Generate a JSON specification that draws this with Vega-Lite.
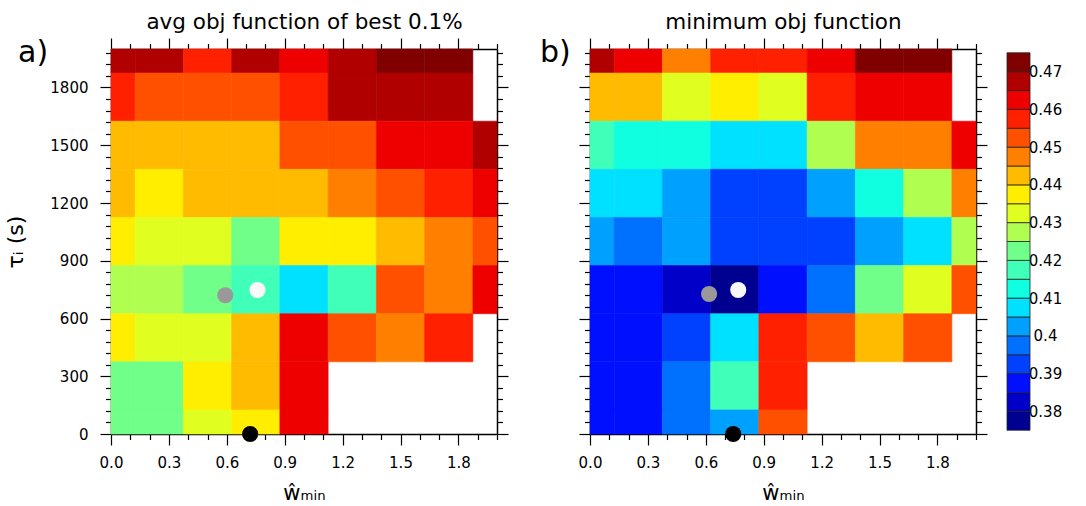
{
 "$schema": "https://vega.github.io/schema/vega-lite/v6.json",
 "padding": {"left": 4, "top": 11, "right": 5, "bottom": 5},
 "background": "white",
 "config": {
  "font": "DejaVu Sans",
  "view": {"stroke": null},
  "axis": {"domainColor": "#000", "domainWidth": 1.5, "tickColor": "#000", "tickWidth": 1.2, "labelColor": "#000", "labelFontSize": 15, "labelFont": "DejaVu Sans", "titleFont": "DejaVu Sans", "titleColor": "#000", "titleFontWeight": "normal", "grid": false, "zindex": 1, "labelOverlap": false, "labelFlush": false, "labelBound": false},
  "title": {"font": "DejaVu Sans", "fontSize": 30, "fontWeight": "normal", "color": "#000", "anchor": "start", "frame": "group", "baseline": "alphabetic"}
 },
 "datasets": {
  "wbins": [{"w":0,"w0":0,"w1":0.125},{"w":0.25,"w0":0.125,"w1":0.375},{"w":0.5,"w0":0.375,"w1":0.625},{"w":0.75,"w0":0.625,"w1":0.875},{"w":1,"w0":0.875,"w1":1.125},{"w":1.25,"w0":1.125,"w1":1.375},{"w":1.5,"w0":1.375,"w1":1.625},{"w":1.75,"w0":1.625,"w1":1.875},{"w":2,"w0":1.875,"w1":2}],
  "tbins": [{"tau":0,"t0":0,"t1":125},{"tau":250,"t0":125,"t1":375},{"tau":500,"t0":375,"t1":625},{"tau":750,"t0":625,"t1":875},{"tau":1000,"t0":875,"t1":1125},{"tau":1250,"t0":1125,"t1":1375},{"tau":1500,"t0":1375,"t1":1625},{"tau":1750,"t0":1625,"t1":1875},{"tau":2000,"t0":1875,"t1":2000}],
  "objA": [
   {"w":0,"tau":2000,"v":0.4675},{"w":0.25,"tau":2000,"v":0.4675},{"w":0.5,"tau":2000,"v":0.4575},{"w":0.75,"tau":2000,"v":0.4675},{"w":1,"tau":2000,"v":0.4625},{"w":1.25,"tau":2000,"v":0.4675},{"w":1.5,"tau":2000,"v":0.4725},{"w":1.75,"tau":2000,"v":0.4725},
   {"w":0,"tau":1750,"v":0.4575},{"w":0.25,"tau":1750,"v":0.4525},{"w":0.5,"tau":1750,"v":0.4525},{"w":0.75,"tau":1750,"v":0.4525},{"w":1,"tau":1750,"v":0.4575},{"w":1.25,"tau":1750,"v":0.4675},{"w":1.5,"tau":1750,"v":0.4675},{"w":1.75,"tau":1750,"v":0.4675},
   {"w":0,"tau":1500,"v":0.4425},{"w":0.25,"tau":1500,"v":0.4425},{"w":0.5,"tau":1500,"v":0.4425},{"w":0.75,"tau":1500,"v":0.4425},{"w":1,"tau":1500,"v":0.4525},{"w":1.25,"tau":1500,"v":0.4525},{"w":1.5,"tau":1500,"v":0.4625},{"w":1.75,"tau":1500,"v":0.4625},{"w":2,"tau":1500,"v":0.4675},
   {"w":0,"tau":1250,"v":0.4425},{"w":0.25,"tau":1250,"v":0.4375},{"w":0.5,"tau":1250,"v":0.4425},{"w":0.75,"tau":1250,"v":0.4425},{"w":1,"tau":1250,"v":0.4425},{"w":1.25,"tau":1250,"v":0.4475},{"w":1.5,"tau":1250,"v":0.4525},{"w":1.75,"tau":1250,"v":0.4575},{"w":2,"tau":1250,"v":0.4625},
   {"w":0,"tau":1000,"v":0.4375},{"w":0.25,"tau":1000,"v":0.4325},{"w":0.5,"tau":1000,"v":0.4325},{"w":0.75,"tau":1000,"v":0.4225},{"w":1,"tau":1000,"v":0.4375},{"w":1.25,"tau":1000,"v":0.4375},{"w":1.5,"tau":1000,"v":0.4425},{"w":1.75,"tau":1000,"v":0.4475},{"w":2,"tau":1000,"v":0.4525},
   {"w":0,"tau":750,"v":0.4275},{"w":0.25,"tau":750,"v":0.4275},{"w":0.5,"tau":750,"v":0.4225},{"w":0.75,"tau":750,"v":0.4175},{"w":1,"tau":750,"v":0.4075},{"w":1.25,"tau":750,"v":0.4175},{"w":1.5,"tau":750,"v":0.4525},{"w":1.75,"tau":750,"v":0.4475},{"w":2,"tau":750,"v":0.4625},
   {"w":0,"tau":500,"v":0.4375},{"w":0.25,"tau":500,"v":0.4325},{"w":0.5,"tau":500,"v":0.4325},{"w":0.75,"tau":500,"v":0.4425},{"w":1,"tau":500,"v":0.4625},{"w":1.25,"tau":500,"v":0.4525},{"w":1.5,"tau":500,"v":0.4475},{"w":1.75,"tau":500,"v":0.4575},
   {"w":0,"tau":250,"v":0.4225},{"w":0.25,"tau":250,"v":0.4225},{"w":0.5,"tau":250,"v":0.4375},{"w":0.75,"tau":250,"v":0.4425},{"w":1,"tau":250,"v":0.4625},
   {"w":0,"tau":0,"v":0.4225},{"w":0.25,"tau":0,"v":0.4225},{"w":0.5,"tau":0,"v":0.4325},{"w":0.75,"tau":0,"v":0.4375},{"w":1,"tau":0,"v":0.4625}
  ],
  "objB": [
   {"w":0,"tau":2000,"v":0.4675},{"w":0.25,"tau":2000,"v":0.4625},{"w":0.5,"tau":2000,"v":0.4475},{"w":0.75,"tau":2000,"v":0.4575},{"w":1,"tau":2000,"v":0.4575},{"w":1.25,"tau":2000,"v":0.4625},{"w":1.5,"tau":2000,"v":0.4725},{"w":1.75,"tau":2000,"v":0.4725},
   {"w":0,"tau":1750,"v":0.4425},{"w":0.25,"tau":1750,"v":0.4425},{"w":0.5,"tau":1750,"v":0.4325},{"w":0.75,"tau":1750,"v":0.4375},{"w":1,"tau":1750,"v":0.4325},{"w":1.25,"tau":1750,"v":0.4575},{"w":1.5,"tau":1750,"v":0.4625},{"w":1.75,"tau":1750,"v":0.4625},
   {"w":0,"tau":1500,"v":0.4175},{"w":0.25,"tau":1500,"v":0.4125},{"w":0.5,"tau":1500,"v":0.4125},{"w":0.75,"tau":1500,"v":0.4075},{"w":1,"tau":1500,"v":0.4075},{"w":1.25,"tau":1500,"v":0.4275},{"w":1.5,"tau":1500,"v":0.4475},{"w":1.75,"tau":1500,"v":0.4475},{"w":2,"tau":1500,"v":0.4625},
   {"w":0,"tau":1250,"v":0.4075},{"w":0.25,"tau":1250,"v":0.4075},{"w":0.5,"tau":1250,"v":0.4025},{"w":0.75,"tau":1250,"v":0.3925},{"w":1,"tau":1250,"v":0.3925},{"w":1.25,"tau":1250,"v":0.4025},{"w":1.5,"tau":1250,"v":0.4125},{"w":1.75,"tau":1250,"v":0.4275},{"w":2,"tau":1250,"v":0.4475},
   {"w":0,"tau":1000,"v":0.4025},{"w":0.25,"tau":1000,"v":0.3975},{"w":0.5,"tau":1000,"v":0.4025},{"w":0.75,"tau":1000,"v":0.3925},{"w":1,"tau":1000,"v":0.3925},{"w":1.25,"tau":1000,"v":0.3925},{"w":1.5,"tau":1000,"v":0.4025},{"w":1.75,"tau":1000,"v":0.4075},{"w":2,"tau":1000,"v":0.4275},
   {"w":0,"tau":750,"v":0.3875},{"w":0.25,"tau":750,"v":0.3875},{"w":0.5,"tau":750,"v":0.3825},{"w":0.75,"tau":750,"v":0.3775},{"w":1,"tau":750,"v":0.3875},{"w":1.25,"tau":750,"v":0.3975},{"w":1.5,"tau":750,"v":0.4225},{"w":1.75,"tau":750,"v":0.4325},{"w":2,"tau":750,"v":0.4525},
   {"w":0,"tau":500,"v":0.3875},{"w":0.25,"tau":500,"v":0.3875},{"w":0.5,"tau":500,"v":0.3925},{"w":0.75,"tau":500,"v":0.4075},{"w":1,"tau":500,"v":0.4575},{"w":1.25,"tau":500,"v":0.4525},{"w":1.5,"tau":500,"v":0.4425},{"w":1.75,"tau":500,"v":0.4525},
   {"w":0,"tau":250,"v":0.3875},{"w":0.25,"tau":250,"v":0.3875},{"w":0.5,"tau":250,"v":0.3975},{"w":0.75,"tau":250,"v":0.4175},{"w":1,"tau":250,"v":0.4575},
   {"w":0,"tau":0,"v":0.3875},{"w":0.25,"tau":0,"v":0.3875},{"w":0.5,"tau":0,"v":0.3975},{"w":0.75,"tau":0,"v":0.4025},{"w":1,"tau":0,"v":0.4525}
  ],
  "dotsA": [{"kind":"p1","w":0.592,"tau":721},{"kind":"p2","w":0.759,"tau":748},{"kind":"p0","w":0.721,"tau":0}],
  "dotsB": [{"kind":"p1","w":0.617,"tau":727},{"kind":"p2","w":0.768,"tau":748},{"kind":"p0","w":0.742,"tau":0}],
  "levels": [{"lo":0.375,"hi":0.38,"v":0.3775},{"lo":0.38,"hi":0.385,"v":0.3825},{"lo":0.385,"hi":0.39,"v":0.3875},{"lo":0.39,"hi":0.395,"v":0.3925},{"lo":0.395,"hi":0.4,"v":0.3975},{"lo":0.4,"hi":0.405,"v":0.4025},{"lo":0.405,"hi":0.41,"v":0.4075},{"lo":0.41,"hi":0.415,"v":0.4125},{"lo":0.415,"hi":0.42,"v":0.4175},{"lo":0.42,"hi":0.425,"v":0.4225},{"lo":0.425,"hi":0.43,"v":0.4275},{"lo":0.43,"hi":0.435,"v":0.4325},{"lo":0.435,"hi":0.44,"v":0.4375},{"lo":0.44,"hi":0.445,"v":0.4425},{"lo":0.445,"hi":0.45,"v":0.4475},{"lo":0.45,"hi":0.455,"v":0.4525},{"lo":0.455,"hi":0.46,"v":0.4575},{"lo":0.46,"hi":0.465,"v":0.4625},{"lo":0.465,"hi":0.47,"v":0.4675},{"lo":0.47,"hi":0.475,"v":0.4725}]
 },
 "hconcat": [
  {
   "hconcat": [
    {
     "width": 386, "height": 385,
     "title": {"text": "a)", "dx": -93, "offset": -57},
     "layer": [
      {
       "data": {"name": "objA"},
       "transform": [
        {"lookup": "w", "from": {"data": {"name": "wbins"}, "key": "w", "fields": ["w0", "w1"]}},
        {"lookup": "tau", "from": {"data": {"name": "tbins"}, "key": "tau", "fields": ["t0", "t1"]}}
       ],
       "mark": {"type": "rect", "strokeWidth": 0.6},
       "encoding": {
        "x": {"field": "w0", "type": "quantitative", "scale": {"domain": [0, 2], "nice": false, "zero": false},
         "axis": {"orient": "bottom", "values": [0,0.1,0.2,0.3,0.4,0.5,0.6,0.7,0.8,0.9,1,1.1,1.2,1.3,1.4,1.5,1.6,1.7,1.8,1.9,2], "labelExpr": "round(datum.value*10)%3==0 ? format(datum.value,'.1f') : ''", "tickSize": {"condition": {"test": "round(datum.value*10)%3==0", "value": 11}, "value": 5.5}, "labelPadding": 10, "title": "ŵₘᵢₙ", "titleFontSize": 21, "titlePadding": 12}},
        "x2": {"field": "w1"},
        "y": {"field": "t0", "type": "quantitative", "scale": {"domain": [0, 2000], "nice": false, "zero": false},
         "axis": {"orient": "left", "values": [0,60,120,180,240,300,360,420,480,540,600,660,720,780,840,900,960,1020,1080,1140,1200,1260,1320,1380,1440,1500,1560,1620,1680,1740,1800,1860,1920,1980], "labelExpr": "datum.value%300==0 ? ''+datum.value : ''", "tickSize": {"condition": {"test": "datum.value%300==0", "value": 11}, "value": 5.5}, "labelPadding": 12, "title": "τᵢ (s)", "titleFontSize": 22, "titlePadding": 22}},
        "y2": {"field": "t1"},
        "color": {"field": "v", "type": "quantitative", "scale": {"type": "threshold", "domain": [0.38,0.385,0.39,0.395,0.4,0.405,0.41,0.415,0.42,0.425,0.43,0.435,0.44,0.445,0.45,0.455,0.46,0.465,0.47], "range": ["#000090","#0000c8","#0010ff","#0040ff","#0070ff","#00a0ff","#00e0ff","#10ffe0","#40ffb8","#70ff88","#b0ff50","#e0ff20","#ffee00","#ffbb00","#ff8000","#ff5000","#ff2000","#ee0000","#b00000","#800000"]}, "legend": null},
        "stroke": {"field": "v", "type": "quantitative", "scale": {"type": "threshold", "domain": [0.38,0.385,0.39,0.395,0.4,0.405,0.41,0.415,0.42,0.425,0.43,0.435,0.44,0.445,0.45,0.455,0.46,0.465,0.47], "range": ["#000090","#0000c8","#0010ff","#0040ff","#0070ff","#00a0ff","#00e0ff","#10ffe0","#40ffb8","#70ff88","#b0ff50","#e0ff20","#ffee00","#ffbb00","#ff8000","#ff5000","#ff2000","#ee0000","#b00000","#800000"]}, "legend": null}
       }
      },
      {
       "data": {"name": "dotsA"},
       "mark": {"type": "circle", "opacity": 1},
       "encoding": {
        "x": {"field": "w", "type": "quantitative", "scale": {"domain": [0, 2], "nice": false, "zero": false},
         "axis": {"orient": "top", "values": [0,0.1,0.2,0.3,0.4,0.5,0.6,0.7,0.8,0.9,1,1.1,1.2,1.3,1.4,1.5,1.6,1.7,1.8,1.9,2], "labels": false, "tickSize": {"condition": {"test": "round(datum.value*10)%3==0", "value": 11}, "value": 5.5}, "title": "avg obj function of best 0.1%", "titleFontSize": 21.5, "titlePadding": 9, "titleBaseline": "alphabetic"}},
        "y": {"field": "tau", "type": "quantitative", "scale": {"domain": [0, 2000], "nice": false, "zero": false},
         "axis": {"orient": "right", "values": [0,60,120,180,240,300,360,420,480,540,600,660,720,780,840,900,960,1020,1080,1140,1200,1260,1320,1380,1440,1500,1560,1620,1680,1740,1800,1860,1920,1980], "labels": false, "tickSize": {"condition": {"test": "datum.value%300==0", "value": 11}, "value": 5.5}, "title": null}},
        "fill": {"field": "kind", "type": "nominal", "scale": {"domain": ["p1", "p2", "p0"], "range": ["#999999", "#f9f9f9", "#000000"]}, "legend": null},
        "size": {"field": "kind", "type": "ordinal", "scale": {"domain": ["p1", "p2", "p0"], "range": [260, 260, 320]}, "legend": null}
       }
      }
     ],
     "resolve": {"axis": {"x": "independent", "y": "independent"}}
    },
    {
     "width": 386, "height": 385,
     "title": {"text": "b)", "dx": -50, "offset": -57},
     "layer": [
      {
       "data": {"name": "objB"},
       "transform": [
        {"lookup": "w", "from": {"data": {"name": "wbins"}, "key": "w", "fields": ["w0", "w1"]}},
        {"lookup": "tau", "from": {"data": {"name": "tbins"}, "key": "tau", "fields": ["t0", "t1"]}}
       ],
       "mark": {"type": "rect", "strokeWidth": 0.6},
       "encoding": {
        "x": {"field": "w0", "type": "quantitative", "scale": {"domain": [0, 2], "nice": false, "zero": false},
         "axis": {"orient": "bottom", "values": [0,0.1,0.2,0.3,0.4,0.5,0.6,0.7,0.8,0.9,1,1.1,1.2,1.3,1.4,1.5,1.6,1.7,1.8,1.9,2], "labelExpr": "round(datum.value*10)%3==0 ? format(datum.value,'.1f') : ''", "tickSize": {"condition": {"test": "round(datum.value*10)%3==0", "value": 11}, "value": 5.5}, "labelPadding": 10, "title": "ŵₘᵢₙ", "titleFontSize": 21, "titlePadding": 12}},
        "x2": {"field": "w1"},
        "y": {"field": "t0", "type": "quantitative", "scale": {"domain": [0, 2000], "nice": false, "zero": false},
         "axis": {"orient": "left", "values": [0,60,120,180,240,300,360,420,480,540,600,660,720,780,840,900,960,1020,1080,1140,1200,1260,1320,1380,1440,1500,1560,1620,1680,1740,1800,1860,1920,1980], "labels": false, "tickSize": {"condition": {"test": "datum.value%300==0", "value": 11}, "value": 5.5}, "title": null}},
        "y2": {"field": "t1"},
        "color": {"field": "v", "type": "quantitative", "scale": {"type": "threshold", "domain": [0.38,0.385,0.39,0.395,0.4,0.405,0.41,0.415,0.42,0.425,0.43,0.435,0.44,0.445,0.45,0.455,0.46,0.465,0.47], "range": ["#000090","#0000c8","#0010ff","#0040ff","#0070ff","#00a0ff","#00e0ff","#10ffe0","#40ffb8","#70ff88","#b0ff50","#e0ff20","#ffee00","#ffbb00","#ff8000","#ff5000","#ff2000","#ee0000","#b00000","#800000"]}, "legend": null},
        "stroke": {"field": "v", "type": "quantitative", "scale": {"type": "threshold", "domain": [0.38,0.385,0.39,0.395,0.4,0.405,0.41,0.415,0.42,0.425,0.43,0.435,0.44,0.445,0.45,0.455,0.46,0.465,0.47], "range": ["#000090","#0000c8","#0010ff","#0040ff","#0070ff","#00a0ff","#00e0ff","#10ffe0","#40ffb8","#70ff88","#b0ff50","#e0ff20","#ffee00","#ffbb00","#ff8000","#ff5000","#ff2000","#ee0000","#b00000","#800000"]}, "legend": null}
       }
      },
      {
       "data": {"name": "dotsB"},
       "mark": {"type": "circle", "opacity": 1},
       "encoding": {
        "x": {"field": "w", "type": "quantitative", "scale": {"domain": [0, 2], "nice": false, "zero": false},
         "axis": {"orient": "top", "values": [0,0.1,0.2,0.3,0.4,0.5,0.6,0.7,0.8,0.9,1,1.1,1.2,1.3,1.4,1.5,1.6,1.7,1.8,1.9,2], "labels": false, "tickSize": {"condition": {"test": "round(datum.value*10)%3==0", "value": 11}, "value": 5.5}, "title": "minimum obj function", "titleFontSize": 21.5, "titlePadding": 9, "titleBaseline": "alphabetic"}},
        "y": {"field": "tau", "type": "quantitative", "scale": {"domain": [0, 2000], "nice": false, "zero": false},
         "axis": {"orient": "right", "values": [0,60,120,180,240,300,360,420,480,540,600,660,720,780,840,900,960,1020,1080,1140,1200,1260,1320,1380,1440,1500,1560,1620,1680,1740,1800,1860,1920,1980], "labels": false, "tickSize": {"condition": {"test": "datum.value%300==0", "value": 11}, "value": 5.5}, "title": null}},
        "fill": {"field": "kind", "type": "nominal", "scale": {"domain": ["p1", "p2", "p0"], "range": ["#999999", "#f9f9f9", "#000000"]}, "legend": null},
        "size": {"field": "kind", "type": "ordinal", "scale": {"domain": ["p1", "p2", "p0"], "range": [260, 260, 320]}, "legend": null}
       }
      }
     ],
     "resolve": {"axis": {"x": "independent", "y": "independent"}}
    }
   ],
   "spacing": 93,
   "bounds": "flush"
  },
  {
   "width": 23, "height": 385,
   "data": {"name": "levels"},
   "mark": {"type": "rect", "stroke": "#222", "strokeWidth": 0.8},
   "encoding": {
    "y": {"field": "lo", "type": "quantitative", "scale": {"domain": [0.374, 0.476], "nice": false, "zero": false},
     "axis": {"orient": "right", "values": [0.38,0.39,0.4,0.41,0.42,0.43,0.44,0.45,0.46,0.47], "labelExpr": "format(datum.value,'.2~f')", "ticks": false, "domain": false, "labelAlign": "center", "labelPadding": 15, "title": null}},
    "y2": {"field": "hi"},
    "color": {"field": "v", "type": "quantitative", "scale": {"type": "threshold", "domain": [0.38,0.385,0.39,0.395,0.4,0.405,0.41,0.415,0.42,0.425,0.43,0.435,0.44,0.445,0.45,0.455,0.46,0.465,0.47], "range": ["#000090","#0000c8","#0010ff","#0040ff","#0070ff","#00a0ff","#00e0ff","#10ffe0","#40ffb8","#70ff88","#b0ff50","#e0ff20","#ffee00","#ffbb00","#ff8000","#ff5000","#ff2000","#ee0000","#b00000","#800000"]}, "legend": null}
   }
  }
 ],
 "spacing": 18,
 "bounds": "full"
}
